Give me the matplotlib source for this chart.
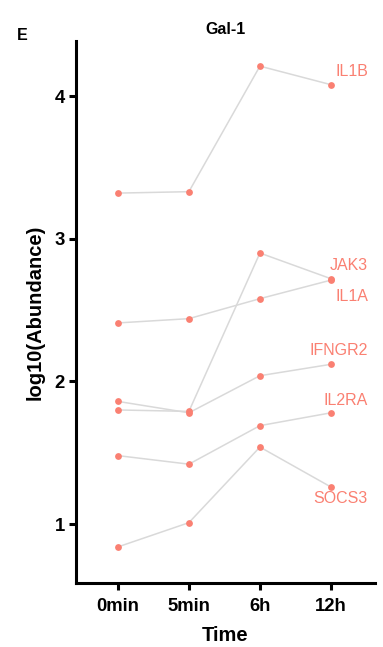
import matplotlib
matplotlib.use("Agg")
import matplotlib.pyplot as plt

plt.rcParams['font.family'] = ['Liberation Sans', 'DejaVu Sans']

times = ['0min', '5min', '6h', '12h']
genes = ['IL1B', 'JAK3', 'IL1A', 'IFNGR2', 'IL2RA', 'SOCS3']
il1b = [3.32, 3.33, 4.21, 4.08]
jak3 = [1.80, 1.79, 2.90, 2.72]
il1a = [2.41, 2.44, 2.58, 2.71]
ifngr2 = [1.86, 1.78, 2.04, 2.12]
il2ra = [1.48, 1.42, 1.69, 1.78]
socs3 = [0.84, 1.01, 1.54, 1.26]
series = [il1b, jak3, il1a, ifngr2, il2ra, socs3]

# label offsets from the last point, in pixels (dx, dy)
label_offsets = [(37, 13), (37, 13), (37, -16), (37, 14), (37, 12), (37, -12)]

point_color = '#FA8072'
line_color = '#D9D9D9'

fig = plt.figure(figsize=(3.83, 6.47), dpi=100)
ax = fig.add_axes([0.1984, 0.0989, 0.7806, 0.8377])

x = list(range(len(times)))
for vals in series:
    ax.plot(x, vals, color=line_color, lw=1.1, zorder=1)
    ax.scatter(x, vals, s=24, color=point_color, zorder=2, linewidths=0)

for name, vals, (dx, dy) in zip(genes, series, label_offsets):
    ax.annotate(name, (x[-1], vals[-1]), xytext=(dx, dy), textcoords='offset pixels',
                ha='right', va='center', fontsize=11.5, color='#FA8072')

ax.set_xlim(-0.59, 3.62)
ax.set_ylim(0.587, 4.386)
ax.set_xticks(x)
ax.set_xticklabels(times)
ax.set_yticks([1, 2, 3, 4])

for s in ['top', 'right']:
    ax.spines[s].set_visible(False)
for s in ['left', 'bottom']:
    ax.spines[s].set_linewidth(2.2)

ax.tick_params(axis='both', width=2.2, length=5, labelsize=13.3)
ax.tick_params(axis='x', pad=6)
ax.tick_params(axis='y', pad=3)
for lab in ax.get_xticklabels() + ax.get_yticklabels():
    lab.set_fontweight('bold')

ax.set_xlabel('Time', fontsize=14.5, fontweight='bold', labelpad=8)
ax.set_ylabel('log10(Abundance)', fontsize=14.5, fontweight='bold', labelpad=7)
ax.set_title('Gal-1', fontsize=11.5, fontweight='bold', pad=5)
fig.text(0.057, 0.945, 'E', fontsize=11.5, fontweight='bold', ha='center', va='center')

fig.savefig('out.png', dpi=100)
